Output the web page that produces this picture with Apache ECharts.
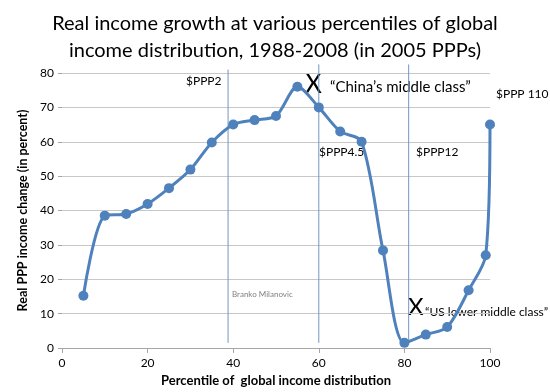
<!DOCTYPE html>
<html><head><meta charset="utf-8">
<script src="https://cdn.jsdelivr.net/npm/echarts@6/dist/echarts.min.js"></script>
<style>html,body{margin:0;padding:0;background:#fff}#c{width:550px;height:392px}</style>
</head><body><div id="c"></div>
<script>
const percentiles = [5, 10, 15, 20, 25, 30, 35, 40, 45, 50, 55, 60, 65, 70, 75, 80, 85, 90, 95, 99, 100];
const growth = [15.2, 38.5, 39, 41.9, 46.5, 51.9, 59.8, 65, 66.3, 67.5, 76, 70, 63, 60, 28.4, 1.5, 3.9, 6.1, 16.8, 27, 65];
const thresholdX = [38.8, 60, 81, 101];
const thresholdTop = [81, 82.5, 82.5, 82.5];
const thresholdBottom = [1.5, 1.5, 1.5, 1.5];
const xTicks = [0, 20, 40, 60, 80, 100];
const yTicks = [0, 10, 20, 30, 40, 50, 60, 70, 80];

const FONT = 'Lato';
const chart = echarts.init(document.getElementById('c'));
const thresholdSeries = thresholdX.map((x, i) => ({
  type: 'line', clip: false, symbol: 'none', silent: true, z: 1,
  lineStyle: {color: '#7595c0', width: 1},
  data: [[x, thresholdBottom[i]], [x, thresholdTop[i]]]
}));
const txt = (left, top, text, size, color, extra) => Object.assign({
  type: 'text', left, top,
  style: {text, font: size + 'px ' + FONT, fill: color || '#000'}
}, extra || {});
chart.setOption({
  animation: false,
  textStyle: {fontFamily: FONT},
  title: {
    text: 'Real income growth at various percentiles of global\nincome distribution, 1988-2008 (in 2005 PPPs)',
    left: 'center', top: 5,
    textStyle: {fontFamily: FONT, fontSize: 20, fontWeight: 'normal', color: '#000', lineHeight: 27}
  },
  grid: {left: 62, right: 60, top: 73, bottom: 44},
  xAxis: {
    type: 'value', min: xTicks[0], max: xTicks[xTicks.length - 1], interval: 20,
    name: 'Percentile of  global income distribution', nameLocation: 'middle', nameGap: 25,
    nameTextStyle: {fontFamily: FONT, fontWeight: 'bold', fontSize: 13, color: '#000'},
    axisLine: {lineStyle: {color: '#a6a6a6'}},
    axisTick: {show: true, length: 5, lineStyle: {color: '#a6a6a6'}},
    axisLabel: {color: '#000', fontSize: 12, margin: 9},
    splitLine: {show: false}
  },
  yAxis: {
    type: 'value', min: yTicks[0], max: yTicks[yTicks.length - 1], interval: 10,
    name: 'Real PPP income change (in percent)', nameLocation: 'middle', nameGap: 28,
    nameTextStyle: {fontFamily: FONT, fontWeight: 'bold', fontSize: 12.5, color: '#000'},
    axisLine: {show: false},
    axisTick: {show: true, length: 4, lineStyle: {color: '#a6a6a6'}},
    axisLabel: {color: '#000', fontSize: 12, margin: 8},
    splitLine: {lineStyle: {color: '#c8c8c8'}}
  },
  series: thresholdSeries.concat([{
    type: 'line', smooth: 0.3, z: 3,
    data: percentiles.map((p, i) => [p, growth[i]]),
    symbol: 'circle', symbolSize: 10,
    itemStyle: {color: '#4f81bd'},
    lineStyle: {color: '#4f81bd', width: 3}
  }]),
  graphic: [
    txt(186, 75, '$PPP2', 12),
    txt(319, 146, '$PPP4.5', 12),
    txt(416, 146, '$PPP12', 12),
    txt(496, 88, '$PPP 110', 12),
    txt(232, 290, 'Branko Milanovic', 8, '#808080'),
    txt(305, 72, 'X', 26),
    txt(330, 80, '\u201CChina\u2019s middle class\u201D', 15),
    txt(408, 295, 'X', 24),
    txt(425, 306, '\u201CUS lower middle class\u201D', 12)
  ]
});
</script></body></html>
